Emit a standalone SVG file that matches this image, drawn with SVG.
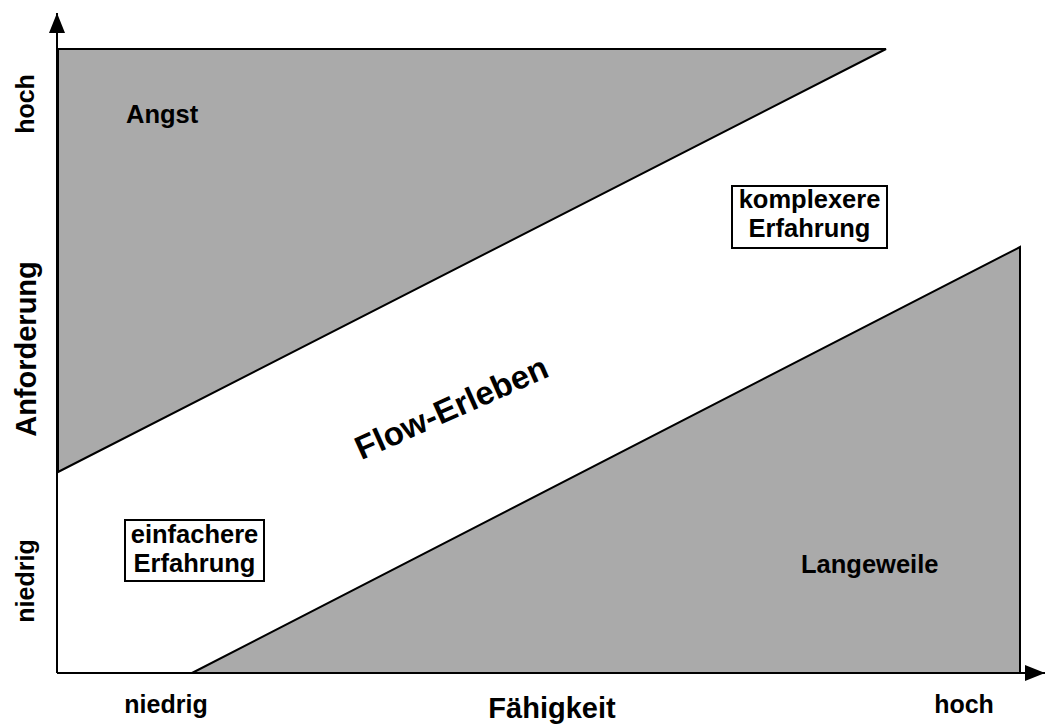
<svg xmlns="http://www.w3.org/2000/svg" width="1045" height="725" viewBox="0 0 1045 725">
<style>
text{font-family:"Liberation Sans",Arial,sans-serif;font-weight:bold;fill:#000}
.region{fill:#aaaaaa;stroke:#000;stroke-width:2}
.box{fill:#fff;stroke:#000;stroke-width:2}
.axis{stroke:#000;stroke-width:2;fill:none}
.t25{font-size:25.5px}
.lab{font-size:25px}
.big{font-size:29px}
</style>
<defs>
<marker id="arr" viewBox="0 0 20 16" refX="20" refY="8" markerWidth="20" markerHeight="16" markerUnits="userSpaceOnUse" orient="auto">
<path d="M0,0 L20,8 L0,16 Z" fill="#000"/>
</marker>
</defs>
<g id="angst">
<polygon class="region" points="58,49 886,49 58,472"/>
<text class="t25" x="126" y="123">Angst</text>
</g>
<g id="langeweile">
<polygon class="region" points="192,673 1020,247 1020,673"/>
<text class="t25" x="801" y="573">Langeweile</text>
</g>
<g id="flow">
<text font-size="33" text-anchor="middle" transform="translate(456,418) rotate(-24)">Flow-Erleben</text>
</g>
<g id="komplex">
<rect class="box" x="732" y="186" width="155" height="62"/>
<text class="t25" x="809.5" y="208" text-anchor="middle">komplexere</text>
<text class="t25" x="809.5" y="237" text-anchor="middle">Erfahrung</text>
</g>
<g id="einfach">
<rect class="box" x="125" y="520" width="139" height="61"/>
<text class="t25" x="194.5" y="543" text-anchor="middle">einfachere</text>
<text class="t25" x="194.5" y="572" text-anchor="middle">Erfahrung</text>
</g>
<g id="connectors">
<line class="axis" x1="57" y1="673" x2="57" y2="13" marker-end="url(#arr)"/>
<line class="axis" x1="57" y1="673" x2="1045" y2="673" marker-end="url(#arr)"/>
</g>
<g id="labels">
<text class="lab" text-anchor="middle" transform="translate(34,104) rotate(-90)">hoch</text>
<text class="big" text-anchor="middle" transform="translate(36,349) rotate(-90)">Anforderung</text>
<text class="lab" text-anchor="middle" transform="translate(34,581) rotate(-90)">niedrig</text>
<text class="lab" text-anchor="middle" x="166" y="713">niedrig</text>
<text class="big" text-anchor="middle" x="552" y="718">Fähigkeit</text>
<text class="lab" text-anchor="middle" x="964" y="713">hoch</text>
</g>
</svg>
